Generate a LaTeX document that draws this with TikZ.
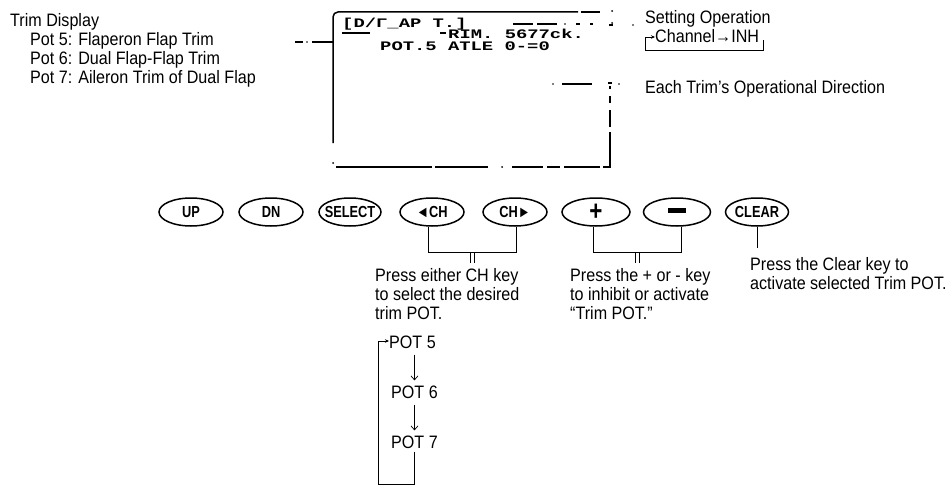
\documentclass[tikz,border=0pt]{standalone}
\usepackage{fontspec}
\setmainfont{Liberation Sans}[FakeStretch=0.895]
\newfontfamily\btnfont{Liberation Sans}[FakeStretch=0.8]
\newfontfamily\lcdfont{Liberation Mono}[FakeStretch=1.45]
\usetikzlibrary{arrows.meta,shapes.geometric}
\begin{document}
\begin{tikzpicture}[x=1pt,y=-1pt,
  txt/.style={anchor=base west,inner sep=0pt,font=\fontsize{18}{19}\selectfont},
  lcdtxt/.style={anchor=base west,inner sep=0pt,font=\lcdfont\bfseries\fontsize{13}{13}\selectfont},
  btn/.style={draw,line width=1.5pt,ellipse,minimum width=64pt,minimum height=28pt,inner sep=0pt,
              font=\btnfont\bfseries\fontsize{16}{16}\selectfont},
  lcd/.style={line width=1.5pt},
  conn/.style={line width=0.9pt},
  tipa/.style={-{Stealth[length=4pt,width=3.5pt]}},
  down/.style={-{Straight Barb[length=4pt,width=7pt]},line width=0.7pt,shorten >=5pt,shorten <=6pt}
]
\useasboundingbox (0,0) rectangle (952,492);

% ---------- left description ----------
\node[txt] (td) at (10,27) {Trim Display};
\node[txt] (p5) at (30,46) {Pot 5: Flaperon Flap Trim};
\node[txt] (p6) at (30,65) {Pot 6: Dual Flap-Flap Trim};
\node[txt] (p7) at (30,84) {Pot 7: Aileron Trim of Dual Flap};

% ---------- LCD display ----------
\draw[lcd,rounded corners=5pt] (333,143) -- (333,12) -- (578,12);
\draw[lcd] (581,12) -- (600,12);
\fill (612,11) circle (1pt);
\fill (612,23) circle (1pt);
\fill (333,163) circle (1pt);
\draw[lcd] (336,167) -- (432,167);
\draw[lcd] (435,167) -- (488,167);
\fill (502,167) circle (1pt);
\draw[lcd] (512,167) -- (543,167);
\draw[lcd] (547,167) -- (560,167);
\draw[lcd] (564,167) -- (600,167);
\draw[lcd] (603,167) -- (610,167) -- (610,132);
\draw[lcd] (610,127) -- (610,110);
\draw[lcd] (610,103) -- (610,96);
\draw[lcd] (610,89) -- (610,86);
% left leader
\draw[lcd] (295,42) -- (303,42);
\fill (307,42) circle (0.9pt);
\draw[lcd] (312,42) -- (333,42);
% upper right leader
\draw[lcd] (513,24) -- (533,24);
\draw[lcd] (537,24) -- (557,24);
\fill (565,24) circle (0.9pt);
\draw[lcd] (576,24) -- (580,24);
\draw[lcd] (590,24) -- (593,24);
\draw[lcd] (609,25) -- (613,25);
\fill (633,25) circle (0.9pt);
% lower right leader
\fill (553,84) circle (0.9pt);
\draw[lcd] (562,84) -- (592,84);
\draw[lcd] (608,83) -- (612,83);
\fill (619,84) circle (0.9pt);
% LCD text
\draw[lcd] (342,33) -- (370,33);
\draw[lcd] (440,33) -- (446,33);
\node[lcdtxt] (l1) at (342,28) {[D/Γ\_AP T.]};
\node[lcdtxt] (l2) at (448,39) {RIM. 5677ck.};
\node[lcdtxt] (l3) at (380,51) {POT.5 ATLE 0-=0};

% ---------- right descriptions ----------
\node[txt] (so) at (645,24) {Setting Operation};
\node[txt] (ch) at (655,43) {Channel→INH};
\coordinate (chl) at (645,50);
\coordinate (chr) at (778,50);
\draw[conn] (ch.base east) ++(4,-3) coordinate (chre) -- (chre |- chr) -- (chl) -- ++(0,-13) coordinate (chtop);
\draw[conn,tipa] (chtop) -- (ch.west |- chtop);
\node[txt] (et) at (645,94) {Each Trim’s Operational Direction};

% ---------- buttons ----------
\node[btn] (up) at (191,212) {\makebox[0pt]{UP}};
\node[btn] (dn) at (271,212) {\makebox[0pt]{DN}};
\node[btn,minimum width=62pt] (sel) at (350,212) {\makebox[0pt]{SELECT}};
\node[btn] (lch) at (432,212) {\makebox[0pt]{◄CH}};
\node[btn] (rch) at (515,212) {\makebox[0pt]{CH►}};
\node[btn,minimum width=68pt,font=\btnfont\bfseries\fontsize{28}{28}\selectfont] (plus) at (596,212) {\makebox[0pt]{\raisebox{-1pt}{+}}};
\node[btn,minimum width=67pt] (minus) at (677,212) {\makebox[0pt]{\rule[2.5pt]{18pt}{5pt}}};
\node[btn,minimum width=63pt] (clr) at (757,212) {\makebox[0pt]{CLEAR}};

% ---------- connectors ----------
\draw[conn] (lch.south -| 428,0) -- (428,252) -- (516,252) -- (rch.south -| 516,0);
\draw[conn] (470,252) -- (470,263);
\draw[conn] (474,252) -- (474,263);
\draw[conn] (plus.south -| 593,0) -- (593,252) -- (681,252) -- (minus.south -| 681,0);
\draw[conn] (635,252) -- (635,263);
\draw[conn] (639,252) -- (639,263);
\draw[conn] (clr.south -| 757,0) -- (757,248);

% ---------- bottom texts ----------
\node[txt] (t1a) at (375,281) {Press either CH key};
\node[txt] (t1b) at (375,300) {to select the desired};
\node[txt] (t1c) at (375,319) {trim POT.};
\node[txt] (t2a) at (570,281) {Press the + or - key};
\node[txt] (t2b) at (570,300) {to inhibit or activate};
\node[txt] (t2c) at (570,319) {“Trim POT.”};
\node[txt] (t3a) at (750,270) {Press the Clear key to};
\node[txt] (t3b) at (750,289) {activate selected Trim POT.};

% ---------- POT cycle ----------
\node[txt,anchor=west] (pot5) at (389,342) {POT 5};
\node[txt,anchor=west] (pot6) at (391,392) {POT 6};
\node[txt,anchor=west] (pot7) at (391,442) {POT 7};
\draw[down] (pot5.south -| pot6.south) -- (pot6.north);
\draw[down] (pot6.south) -- (pot7.north);
\draw[conn] (pot7.south) ++(0,3) coordinate (p7b) -- (p7b |- 0,484) -- (378,484) -- (378,341) coordinate (p5l);
\draw[conn,tipa] (p5l) -- (pot5.west |- p5l);
\end{tikzpicture}
\end{document}
